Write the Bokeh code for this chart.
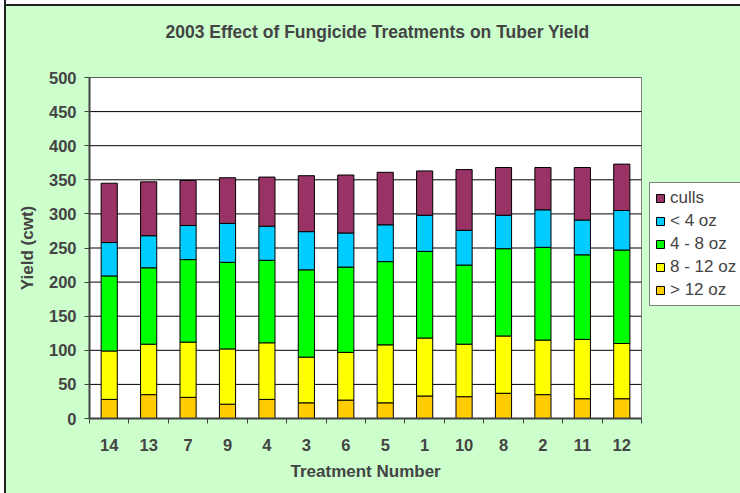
from bokeh.plotting import figure
from bokeh.models import Range1d, FixedTicker, Legend, LegendItem, ColumnDataSource, Title
from bokeh.embed import file_html
from bokeh.resources import INLINE

treatments = ["14", "13", "7", "9", "4", "3", "6", "5", "1", "10", "8", "2", "11", "12"]
gt12 = [28, 35, 31, 21, 28, 23, 27, 23, 33, 32, 37, 35, 29, 29]
oz8_12 = [71, 74, 81, 81, 83, 67, 70, 85, 85, 77, 84, 80, 87, 81]
oz4_8 = [110, 112, 121, 127, 121, 128, 125, 122, 127, 116, 128, 136, 124, 137]
lt4 = [49, 47, 50, 57, 50, 56, 50, 54, 53, 51, 49, 55, 51, 58]
culls = [87, 79, 66, 67, 72, 82, 85, 77, 65, 89, 70, 62, 77, 68]
y_ticks = list(range(0, 501, 50))

series_keys = ["gt12", "oz8_12", "oz4_8", "lt4", "culls"]
series_labels = ["> 12 oz", "8 - 12 oz", "4 - 8 oz", "< 4 oz", "culls"]
series_colors = ["#FFCC00", "#FFFF00", "#00FF00", "#00CCFF", "#993366"]

n = len(treatments)
xpos = list(range(1, n + 1))
src = ColumnDataSource(dict(x=xpos, gt12=gt12, oz8_12=oz8_12, oz4_8=oz4_8, lt4=lt4, culls=culls))

W, H = 740, 493
LEFT, PLOT_RIGHT, TOP, BOTTOM = 89, 641, 77, 75
x_lo, x_hi = 0.5, n + 0.5
x_end = x_lo + (x_hi - x_lo) * (W - LEFT) / (PLOT_RIGHT - LEFT)

FONT = "Liberation Sans"
p = figure(width=W, height=H, output_backend="svg", toolbar_location=None,
           x_range=Range1d(x_lo, x_end), y_range=Range1d(y_ticks[0], y_ticks[-1]),
           title="2003 Effect of Fungicide Treatments on Tuber Yield\n ")
p.min_border_left = LEFT
p.min_border_right = 0
p.min_border_top = TOP
p.min_border_bottom = BOTTOM
p.border_fill_alpha = 0
p.background_fill_alpha = 0
p.outline_line_color = None
p.styles = {
    "background": "linear-gradient(to right, #ffffff 0px, #ffffff 4px, #222222 4px, #222222 6px, transparent 6px), "
                  "linear-gradient(to bottom, #ffffff 0px, #ffffff 4px, #222222 4px, #222222 6px, #CCFFCC 6px)",
}

p.title.align = "left"
p.title.offset = 76
p.title.text_font = FONT
p.title.text_font_size = "17.5px"
p.title.text_font_style = "bold"
p.title.standoff = 32

# plot area (white, gray outline)
p.quad(left=[x_lo], right=[x_hi], bottom=[y_ticks[0]], top=[y_ticks[-1]],
       fill_color="white", line_color="#808080", line_width=1)
# horizontal gridlines
p.segment(x0=[x_lo] * len(y_ticks), x1=[x_hi] * len(y_ticks), y0=y_ticks, y1=y_ticks,
          line_color="black", line_width=1)

renderers = p.vbar_stack(series_keys, x="x", width=0.41, source=src,
                         fill_color=series_colors, line_color="black", line_width=1)

items = [LegendItem(label=lab, renderers=[r]) for lab, r in zip(series_labels, renderers)]
items = items[::-1]
legend = Legend(items=items, location=(560, 112))
legend.label_text_font = FONT
legend.label_text_font_size = "17px"
legend.glyph_width = 10
legend.glyph_height = 10
legend.label_height = 18
legend.label_standoff = 5
legend.spacing = 3
legend.padding = 5
legend.margin = 0
legend.border_line_color = "black"
legend.border_line_width = 1
legend.background_fill_color = "white"
legend.background_fill_alpha = 1
p.add_layout(legend, "center")

# y axis
p.yaxis.ticker = FixedTicker(ticks=y_ticks)
p.yaxis.axis_label = "Yield (cwt)"
p.yaxis.axis_label_text_font = FONT
p.yaxis.axis_label_text_font_size = "17px"
p.yaxis.axis_label_text_font_style = "bold"
p.yaxis.axis_label_standoff = 9
p.yaxis.major_label_text_font = FONT
p.yaxis.major_label_text_font_size = "16.5px"
p.yaxis.major_label_text_font_style = "bold"
p.yaxis.major_label_standoff = 8
p.yaxis.major_tick_out = 5
p.yaxis.major_tick_in = 0
p.yaxis.minor_tick_out = 0
p.yaxis.minor_tick_in = 0
p.yaxis.axis_line_color = "#404040"
p.yaxis.axis_line_width = 2
p.yaxis.major_tick_line_color = "#404040"

# x axis
p.xaxis.bounds = (x_lo, x_hi)
p.xaxis.ticker = FixedTicker(ticks=xpos, minor_ticks=[i + 0.5 for i in range(0, n + 1)])
p.xaxis.major_label_overrides = {x: t for x, t in zip(xpos, treatments)}
p.xaxis.major_label_text_font = FONT
p.xaxis.major_label_text_font_size = "16.5px"
p.xaxis.major_label_text_font_style = "bold"
p.xaxis.major_label_standoff = 15
p.xaxis.major_tick_out = 0
p.xaxis.major_tick_in = 0
p.xaxis.minor_tick_out = 5
p.xaxis.minor_tick_in = 0
p.xaxis.axis_line_color = "#404040"
p.xaxis.axis_line_width = 2
p.xaxis.minor_tick_line_color = "#404040"

# x axis title, centred under the plot area (not the extended frame)
xtitle = Title(text="Treatment Number", align="left", offset=201, vertical_align="top",
               standoff=17, text_font=FONT, text_font_size="17px", text_font_style="bold")
p.add_layout(xtitle, "below")

p.xgrid.grid_line_color = None
p.ygrid.grid_line_color = None

open("out.html", "w").write(file_html(p, INLINE))
